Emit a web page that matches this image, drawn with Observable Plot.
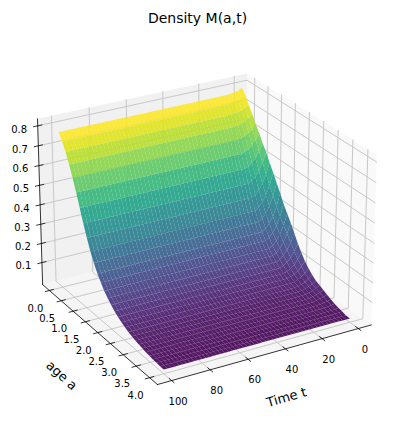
<!DOCTYPE html>
<html>
<head>
<meta charset="utf-8">
<style>html,body{margin:0;padding:0;background:#fff}</style>
<script src="https://cdn.jsdelivr.net/npm/d3@7"></script>
<script src="https://cdn.jsdelivr.net/npm/@observablehq/plot@0.6"></script>
</head>
<body>
<script>
// ---- values ----
const ages = [0,0.133,0.267,0.4,0.533,0.667,0.8,0.933,1.067,1.2,1.333,1.467,1.6,1.733,1.867,2,2.133,2.267,2.4,2.533,2.667,2.8,2.933,3.067,3.2,3.333,3.467,3.6,3.733,3.867,4];
const times = d3.range(0, 101, 2);
const densityAtT0 = [.80,.775,.735,.70,.66,.625,.585,.55,.51,.47,.43,.39,.345,.31,.275,.235,.195,.16,.13,.105,.085,.07,.06,.05,.04,.03,.022,.015,.01,.005,.003];
const densityAtT2 = [.79,.765,.725,.684,.639,.595,.547,.501,.454,.409,.367,.327,.287,.254,.223,.19,.158,.13,.107,.086,.07,.058,.05,.041,.033,.025,.019,.013,.009,.005,.004];
const densityAtT4 = [.785,.756,.716,.672,.623,.572,.517,.463,.411,.362,.318,.278,.241,.211,.183,.156,.13,.107,.088,.072,.059,.049,.041,.035,.028,.021,.016,.012,.009,.006,.004];
const densityAtT6 = [.783,.751,.711,.664,.612,.557,.497,.438,.382,.33,.286,.246,.211,.182,.157,.133,.111,.092,.076,.063,.051,.043,.036,.03,.024,.019,.015,.011,.008,.006,.005];
const densityAtT8 = [.781,.747,.707,.658,.604,.546,.483,.42,.361,.307,.263,.223,.19,.161,.137,.116,.097,.081,.068,.056,.046,.038,.032,.027,.021,.017,.014,.01,.008,.006,.005];
const densitySteady = [.78,.745,.705,.655,.60,.54,.475,.41,.35,.295,.25,.21,.178,.15,.127,.107,.09,.075,.063,.052,.043,.036,.03,.025,.02,.016,.013,.01,.008,.006,.005];
const tTicks = [0,20,40,60,80,100];
const aTicks = [0,0.5,1,1.5,2,2.5,3,3.5,4];
const zTicks = [0.1,0.2,0.3,0.4,0.5,0.6,0.7,0.8];
const tLim = [-7.29, 107.29], aLim = [-0.2917, 4.2917], zLim = [-0.016, 0.835];
const elev = 25, azim = 60, dist = 10;

// ---- 3D camera ----
const se = Math.sin(elev*Math.PI/180), ce = Math.cos(elev*Math.PI/180);
const sa = Math.sin(azim*Math.PI/180), ca = Math.cos(azim*Math.PI/180);
function project(t, a, m) {
  const dx = (t-tLim[0])/(tLim[1]-tLim[0]) - .5;
  const dy = (a-aLim[0])/(aLim[1]-aLim[0]) - .5;
  const dz = ((m-zLim[0])/(zLim[1]-zLim[0]) - .5)*.75;
  const u = -sa*dx + ca*dy;
  const v = -se*ca*dx - se*sa*dy + ce*dz;
  const n = ce*ca*dx + ce*sa*dy + se*dz;
  const D = dist - n;
  return {x:u/D, y:v/D, depth:D};
}
const byTime = new Map([[0,densityAtT0],[2,densityAtT2],[4,densityAtT4],[6,densityAtT6],[8,densityAtT8]]);
const profile = t => byTime.get(t) || densitySteady;

// ---- surface quads, far ones first ----
let quads = [];
for (let j=0;j<times.length-1;j++) for (let i=0;i<ages.length-1;i++) {
  const c = [[times[j],i],[times[j+1],i],[times[j+1],i+1],[times[j],i+1]]
    .map(([t,k]) => project(t, ages[k], profile(t)[k]));
  const vals = [profile(times[j])[i],profile(times[j+1])[i],profile(times[j+1])[i+1],profile(times[j])[i+1]];
  quads.push({pts:c, m:d3.mean(vals), depth:d3.mean(c,p=>p.depth)});
}
quads.sort((p,q)=>q.depth-p.depth);
const surf = quads.flatMap((q,id)=>q.pts.map(p=>({id,x:p.x,y:p.y,m:q.m})));

const T0=tLim[0],T1=tLim[1],A0=aLim[0],A1=aLim[1],Z0=zLim[0],Z1=zLim[1];
const poly = (id,fill,pts)=>pts.map(([t,a,m])=>({id,fill,...project(t,a,m)}));
const panes = [
  ...poly(0,"#f5f5f5",[[T0,A0,Z0],[T1,A0,Z0],[T1,A1,Z0],[T0,A1,Z0]]),
  ...poly(1,"#f1f1f1",[[T0,A0,Z0],[T1,A0,Z0],[T1,A0,Z1],[T0,A0,Z1]]),
  ...poly(2,"#f9f9f9",[[T0,A0,Z0],[T0,A1,Z0],[T0,A1,Z1],[T0,A0,Z1]])
];
let gid=0;
const seg=(pts)=>{gid++;return pts.map(([t,a,m])=>({id:gid,...project(t,a,m)}));};
const grid = [
  ...tTicks.flatMap(t=>seg([[t,A1,Z0],[t,A0,Z0],[t,A0,Z1]])),
  ...aTicks.flatMap(a=>seg([[T1,a,Z0],[T0,a,Z0],[T0,a,Z1]])),
  ...zTicks.flatMap(z=>seg([[T1,A0,z],[T0,A0,z],[T0,A1,z]]))
];
const axes = [
  ...seg([[T1,A0,Z0],[T1,A0,Z1]]),
  ...seg([[T1,A0,Z0],[T1,A1,Z0]]),
  ...seg([[T1,A1,Z0],[T0,A1,Z0]])
];
const ticks = [
  ...tTicks.flatMap(t=>seg([[t,A1-.09,Z0],[t,A1+.09,Z0]])),
  ...aTicks.flatMap(a=>seg([[T1-2.2,a,Z0],[T1+2.2,a,Z0]])),
  ...zTicks.flatMap(z=>seg([[T1-2.2,A0,z],[T1+2.2,A0,z]]))
];
const tLabels = tTicks.map(t=>({...project(t,A1,Z0),text:String(t)}));
const aLabels = aTicks.map(a=>({...project(T1,a,Z0),text:a.toFixed(1)}));
const zLabels = zTicks.map(z=>({...project(T1,A0,z),text:z.toFixed(1)}));

const ox=203.8, oy=221.3, sx=2444, sy=2470, W=394, H=425;
const chart = Plot.plot({
  width:W, height:H, margin:0,
  x:{domain:[-ox/sx,(W-ox)/sx], range:[0,W], axis:null},
  y:{domain:[oy/sy,(oy-H)/sy], range:[0,H], axis:null},
  color:{type:"linear", scheme:"viridis", clamp:true, domain:[d3.min(quads,q=>q.m), d3.mean(densitySteady.slice(0,2))]},
  style:{fontFamily:"DejaVu Sans", background:"#fff", overflow:"visible"},
  marks:[
    Plot.line(panes,{x:"x",y:"y",z:"id",fill:d=>d.fill,stroke:"none"}),
    Plot.line(grid,{x:"x",y:"y",z:"id",stroke:"#c8c8c8",strokeWidth:1,curve:"linear"}),
    Plot.line(axes,{x:"x",y:"y",z:"id",stroke:"#000",strokeWidth:.8}),
    Plot.line(ticks,{x:"x",y:"y",z:"id",stroke:"#000",strokeWidth:.8}),
    Plot.line(surf,{x:"x",y:"y",z:"id",fill:"m",fillOpacity:.9,stroke:"none"}),
    Plot.text(tLabels,{x:"x",y:"y",text:"text",dx:6.5,dy:21,fontSize:10,fill:"#000"}),
    Plot.text(aLabels,{x:"x",y:"y",text:"text",dx:-14,dy:18,fontSize:10,fill:"#000"}),
    Plot.text(zLabels,{x:"x",y:"y",text:"text",dx:-18.5,dy:3.5,fontSize:10,fill:"#000"}),
    Plot.text(["Density M(a,t)"],{frameAnchor:"top",dy:13,fontSize:14,fill:"#000"}),
    Plot.text(["age a"],{x:[(61-ox)/sx],y:[(oy-375)/sy],rotate:42,fontSize:13,fill:"#000"}),
    Plot.text(["Time t"],{x:[(286-ox)/sx],y:[(oy-397)/sy],rotate:-16,fontSize:13,fill:"#000"})
  ]
});
document.body.appendChild(chart);
</script>
</body>
</html>
